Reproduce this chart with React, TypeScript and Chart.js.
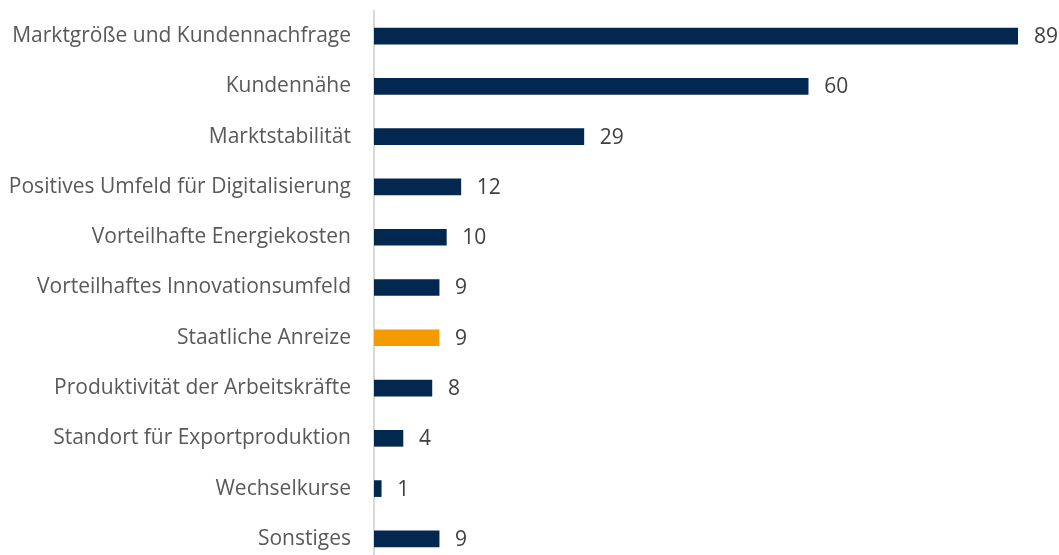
import React, { useEffect, useRef } from "react";
import { Chart, registerables } from "chart.js";

Chart.register(...registerables);

const categories = [
  "Marktgröße und Kundennachfrage",
  "Kundennähe",
  "Marktstabilität",
  "Positives Umfeld für Digitalisierung",
  "Vorteilhafte Energiekosten",
  "Vorteilhaftes Innovationsumfeld",
  "Staatliche Anreize",
  "Produktivität der Arbeitskräfte",
  "Standort für Exportproduktion",
  "Wechselkurse",
  "Sonstiges",
];
const values = [89, 60, 29, 12, 10, 9, 9, 8, 4, 1, 9];
const highlighted = [false, false, false, false, false, false, true, false, false, false, false];

const NAVY = "#02284f";
const ORANGE = "#f59a00";
const FONT = "'Open Sans', sans-serif";

const valueLabels = {
  id: "valueLabels",
  afterDatasetsDraw(chart: any) {
    const ctx = chart.ctx;
    const meta = chart.getDatasetMeta(0);
    ctx.save();
    ctx.font = `21px ${FONT}`;
    ctx.fillStyle = "#404040";
    ctx.textAlign = "left";
    ctx.textBaseline = "middle";
    meta.data.forEach((bar: any, i: number) => {
      ctx.fillText(String(values[i]), bar.x + 16, bar.y + 1);
    });
    ctx.restore();
  },
};

export default function App() {
  const ref = useRef<HTMLCanvasElement>(null);
  useEffect(() => {
    document.body.style.margin = "0";
    document.body.style.overflow = "hidden";
    const chart = new Chart(ref.current!, {
      type: "bar",
      data: {
        labels: categories,
        datasets: [
          {
            data: values,
            backgroundColor: highlighted.map((h) => (h ? ORANGE : NAVY)),
            barThickness: 16,
            borderWidth: 0,
          },
        ],
      },
      plugins: [valueLabels],
      options: {
        indexAxis: "y",
        animation: false,
        responsive: false,
        maintainAspectRatio: false,
        layout: { padding: { top: 11, right: 41, bottom: 2, left: 0 } },
        plugins: { legend: { display: false }, tooltip: { enabled: false } },
        scales: {
          x: { display: false, min: 0, max: 89 },
          y: {
            afterFit: (scale: any) => {
              scale.width = 374;
              scale.paddingTop = 0;
              scale.paddingBottom = 0;
            },
            grid: { display: false, drawTicks: false },
            border: { display: true, color: "#d9d9d9", width: 2 },
            ticks: {
              padding: 23,
              color: "#595959",
              font: { family: FONT, size: 21 },
            },
          },
        },
      },
    });
    return () => chart.destroy();
  }, []);
  return (
    <div style={{ position: "absolute", left: 0, top: 0, width: 1059, height: 566 }}>
      <canvas ref={ref} width={1059} height={566} style={{ display: "block" }} />
    </div>
  );
}
